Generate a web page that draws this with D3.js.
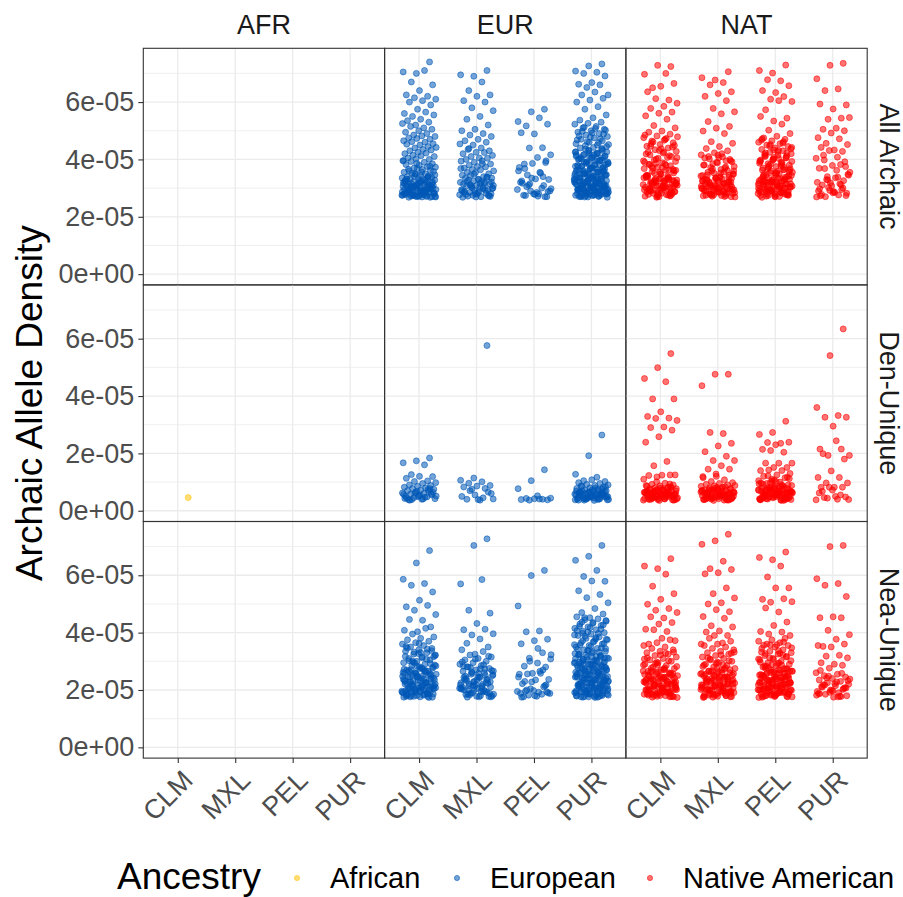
<!DOCTYPE html>
<html>
<head>
<meta charset="utf-8">
<script src="https://cdn.jsdelivr.net/npm/d3@7"></script>
<style>
  body { margin: 0; background: #fff; }
  text { font-family: "Liberation Sans", Arial, sans-serif; }
</style>
</head>
<body>
<div id="plot"></div>
<script>
// Facets and categories
const colNames = ["AFR", "EUR", "NAT"];
const rowNames = ["All Archaic", "Den-Unique", "Nea-Unique"];
const popNames = ["CLM", "MXL", "PEL", "PUR"];
const ancestryNames = ["African", "European", "Native American"];
const ancestryColors = ["#FFC20A", "#0057B7", "#FF0000"];
const yTicks = [0, 2e-5, 4e-5, 6e-5];
const yMinor = [1e-5, 3e-5, 5e-5, 7e-5];

// Archaic allele density per individual, in units of 1e-6, one string per population (CLM, MXL, PEL, PUR)
const afrAll = ["", "", "", ""];
const afrDen = ["4.6", "", "", ""];
const afrNea = ["", "", "", ""];

const eurAll = [
  "74 70 70.5 71 67 66 64 62.5 62 61.5 61 60.5 60 59 57.5 56 56.5 55 55.5 54 53.5 53 52 52.5 51 51.5 50.5 50 49.5 49 48.5 48 48.2 47.5 47 47.3 46.5 46 46.2 45.5 45 45.3 44.5 44 44.2 43.5 43 43.3 42.5 42 42.2 41.5 41 41.3 40.5 40 40.2 39.5 39 39.3 38.5 38 38.2 37.5 37 37.3 36.5 36 36.2 36.8 35.5 35 35.2 35.8 34.5 34 34.2 34.8 33.5 33 33.2 33.8 33.4 32.5 32 32.2 32.8 32.4 31.5 31 31.2 31.8 31.4 30.5 30 30.2 30.8 30.4 30.6 29.5 29 29.2 29.8 29.4 29.6 28.5 28 28.2 28.8 28.4 28.6 28.1 27.5 27.7 27.3 27 27.2 27.8 27.4 27.6 27.1 26.9 26.8 26.8 27 28 29 30 31 32 33 34 35 27.5 28.5 29.5 30.5 31.5 32.5 27.1 27.6 28.1 28.6 29.1 29.6 30.1 30.6 31.1 31.6 32.1 32.6 33.1 33.6 34.1 26.9 27.9 28.9 29.9 30.9 31.9 32.9 27.3 28.3 29.3 30.3 31.3 27.2 28.7 29.2 30.7 31.7 27.4 28.2 29.7 30.2 34.6 35.6 36.6 37.6 38.6 39.6",
  "71 69 69.5 67 64 62.5 62 60.5 60 58 57 55 54 52 50.5 50 49 48.5 48 47 46.5 46 45 45.4 44 43.5 43 42.5 42 42.4 41 41.4 40.5 40 40.4 39 39.4 38.5 38 38.4 37.5 37 37.4 36.5 36 36.4 35.5 35 35.4 34.5 34 34.4 33.5 33 33.4 33.8 32.5 32 32.4 32.8 31.5 31 31.4 31.8 30.5 30 30.4 30.8 29.5 29 29.4 29.8 28.5 28 28.4 28.8 28.2 27.5 27.7 27 27.2 27.4 26.9 26.8 31.8 30.8 29.8 28.8 27.8 33.8 34.8 36.8 39.5 43.8 27.1 27.9 28.6 29.3 30.1 30.9 31.6 32.3 27.4 28.1 29.1 30.2 31.2 32.1 33.1",
  "57.5 56.6 53.2 54.5 51.7 52.3 48.9 49.3 44.1 44 41.6 40.7 38.4 38.9 38.6 37.2 35.2 34.6 33 33.2 31.7 30.9 29 29.5 28 27.4 27 28 32 30 31 29 28.5 27.5 27 33.5 36 35.5 30.5 28.8 27.8 32.5 34 31.5 29.8 27.2 36.8 39.5",
  "73.3 72.6 70.8 70.4 70 69.1 66.8 66.2 66 65.1 62.5 63.5 62.5 61.3 60.7 60 58.4 57.5 55.5 54.5 53.7 53 52.6 52.3 51.5 51 50.5 50 49.5 49 48.5 48 47.5 47 46.5 46 45.5 45 51.2 50.2 49.2 48.2 47.2 46.2 45.2 50.8 49.8 48.8 47.8 46.8 45.8 44.8 44.5 44.2 44 43.5 43 42.5 42 41.5 41 40.5 40 39.5 39 38.5 38 37.5 37 36.5 36 35.5 35 34.5 34 33.5 33 32.5 32 31.5 31 30.5 30 29.5 29 28.5 28 27.5 27 43.8 43.2 42.7 42.2 41.7 41.2 40.7 40.2 39.7 39.2 38.7 38.2 37.7 37.2 36.7 36.2 35.7 35.2 34.7 34.2 33.7 33.2 32.7 32.2 31.7 31.2 30.7 30.2 29.7 29.2 28.7 28.2 27.7 27.2 43.1 42.1 41.1 40.1 39.1 38.1 37.1 36.1 35.1 34.1 33.1 32.1 31.1 30.1 29.1 28.1 27.1 43.6 42.6 41.6 40.6 39.6 38.6 37.6 36.6 35.6 34.6 33.6 32.6 31.6 30.6 29.6 28.6 27.6 35.9 34.9 33.9 32.9 31.9 30.9 29.9 28.9 27.9 26.9 34.3 33.3 32.3 31.3 30.3 29.3 28.3 27.3 26.8 30.8 29.8 28.8 27.8 31.4 30.4 29.4 28.4 27.4 27.1 27.6 28.1 28.6 29.1 29.6 30.1 30.6 31.1 31.6 32.1 32.6 33.1 33.6 34.1 34.6 35.1 35.6 36.1 36.6 37.1 37.6 38.1 38.6 39.1 39.6 40.1 40.6 41.1 41.6 42.1 26.9 27.9 28.9 29.9 30.9 31.9 32.9 33.9 34.9 35.9 36.9 37.9 27.3 28.3 29.3 30.3 31.3 32.3 33.3 27.5 28.5 29.5 30.5 31.5"
];
const natAll = [
  "72.4 72.8 69.7 70 65 66.5 65.5 63.6 60.7 61.2 59.6 58.5 57.8 56.5 56.1 55.2 54 51.8 51 49.9 49.5 48.8 48.2 47.6 47 46.4 45.8 45.2 44.6 44 43.4 42.8 42.2 41.6 41 40.4 48.5 47.3 46.1 44.9 43.7 42.5 41.3 40.1 47.9 46.7 45.5 44.3 43.1 41.9 40.7 39.8 39.3 38.8 38.3 37.8 37.3 36.8 36.3 35.8 35.3 34.8 34.3 33.8 33.3 32.8 32.3 31.8 31.3 30.8 30.3 29.8 29.3 28.8 28.3 27.8 27.3 26.8 39.5 38.5 37.5 36.5 35.5 34.5 33.5 32.5 31.5 30.5 29.5 28.5 27.5 39 38 37 36 35 34 33 32 31 30 29 28 27 34.1 33.1 32.1 31.1 30.1 29.1 28.1 27.1 33.6 32.6 31.6 30.6 29.6 28.6 27.6 32.9 31.9 30.9 29.9 28.9 27.9 27.2 27.7 28.2 28.7 29.2 29.7 30.2 30.7 31.2 31.7 32.2 32.7 33.2 33.7 34.2 35.2 36.2 37.2 38.2 27.4 28.4 29.4 30.4 31.4 32.4 33.4 34.4 36.4 38.6 40.6 42.6 44.6",
  "70.6 67.7 68.5 66.8 66 63.6 63 62 60.5 57.8 56.6 55.9 53.2 51.5 50.9 49.9 49 46.2 45.6 44.5 43.8 43 42.3 41.6 40.9 40.2 39.5 38.8 38.1 37.4 36.7 36 35.3 34.6 33.9 33.2 32.5 31.8 31.1 30.4 29.7 29 28.3 27.6 26.9 42 41 40 39 38 37 36 35 34 33 32 31 30 29 28 27 41.5 40.5 39.5 38.5 37.5 36.5 35.5 34.5 33.5 32.5 31.5 30.5 29.5 28.5 27.5 36.2 35.2 34.2 33.2 32.2 31.2 30.2 29.2 28.2 27.2 34.8 33.8 32.8 31.8 30.8 29.8 28.8 27.8 33.4 32.4 31.4 30.4 29.4 28.4 27.4 30.6 29.6 28.6 27.3 27.1 27.7 28.1 28.7 29.1 29.7 30.1 30.7 31.1 31.7 32.1 32.7 33.1 27.4 28.4 29.4 30.4 31.4 32.4 33.6 34.4 35.6 37.2 39.2 40.6",
  "72.9 70.1 71 67.4 67.8 65.7 63.3 64 61.9 61 60.2 60.5 57.3 54.4 53.4 55 52.3 50.2 49 48.1 47.5 47 46.5 46 45.5 45 44.5 44 43.5 43 42.5 42 41.5 41 40.5 40 39.5 39 38.5 38 37.5 37 36.5 36 35.5 35 34.5 34 33.5 33 32.5 32 31.5 31 30.5 30 29.5 29 28.5 28 27.5 27 47.2 46.2 45.2 44.2 43.2 42.2 41.2 40.2 39.2 38.2 37.2 36.2 35.2 34.2 33.2 32.2 31.2 30.2 29.2 28.2 27.2 46.7 45.7 44.7 43.7 42.7 41.7 40.7 39.7 38.7 37.7 36.7 35.7 34.7 33.7 32.7 31.7 30.7 29.7 28.7 27.7 40.8 39.8 38.8 37.8 36.8 35.8 34.8 33.8 32.8 31.8 30.8 29.8 28.8 27.8 26.8 36.4 35.4 34.4 33.4 32.4 31.4 30.4 29.4 28.4 27.4 33.1 32.1 31.1 30.1 29.1 28.1 27.1 27.2 27.6 28.3 28.6 29.3 29.6 30.3 30.6 31.3 31.6 32.3 32.6 33.3 33.6 34.3 35.3 36.3 37.3 38.3 39.3 40.3 41.3 42.3 43.3 27.4 28.4 29.4 30.4 31.4 32.4 27.9 28.9 29.9 30.9 31.9",
  "73.5 72.8 68.1 64.6 64 59 57.6 59.3 54.4 54 54.6 50.9 50.5 50 49.2 47.6 47.2 45.6 45.2 43.3 44.2 42.8 43.1 40.4 40.8 39.8 37.5 37.9 36.9 38.2 34 34.5 33.6 31.1 32.6 31.8 32 27.6 27 28.2 28.8 27.3 29.5 30.2 35.5 36.2 41.5 39.2 30.8 29 31.5 33 34.8 28.5 27.8 30 29.2 26.9 33.8 36.8 27.4 28.4 29.8 31.2 32.8"
];

const eurDen = [
  "18.4 17.4 16.7 16 12.6 11.9 12 11.3 10.4 10.2 9.8 9.5 9 8.8 8.5 8.2 8 7.8 7.5 7.2 7 6.8 6.5 6.2 6 5.8 5.5 5.2 5 4.8 4.5 4.2 4 3.8 7.7 6.7 5.7 4.7 3.9 6.4 5.4 4.4 7.4 6.1 5.1 4.1 3.7 5.9 4.9 4.3",
  "57.6 11.4 10.6 10.1 9.6 8.8 8.6 8.3 7.8 7.5 4.1 3.7 4 6.5 5.5 5 4.5 7 6 3.9",
  "14.3 10.5 7.7 4.1 4.3 3.8 4.2 3.9 4 3.7 4.4 5.2",
  "26.4 19.2 12.7 11.7 10.5 10.2 10.8 9.8 9.5 9.2 9 8.8 8.5 8.2 8 7.8 7.5 7.2 7 6.8 6.5 6.2 6 5.8 5.5 5.2 5 4.8 4.5 4.2 4 3.8 3.6 8.6 7.6 6.6 5.6 4.6 3.7 8.3 7.3 6.3 5.3 4.3 3.9 7.9 6.9 5.9 4.9 4.1 7.1 6.1 5.1 4.4 6.4 5.4 4.7 3.8 5.7 4.3 6.7 5.9 3.7 4.1 4.5 4.9 5.3 5.7 6.1 6.5 6.9 3.9 4.3 4.7 5.1 5.5 5.9"
];
const natDen = [
  "54.8 49.9 46.1 45 39 39 34.5 32.9 32.3 32.2 31.5 29.2 29 28.1 25.8 23.9 17.2 15.7 12.5 12.4 12.3 12.5 11.8 11 9.6 9.2 9 8.7 8.5 8.2 8 7.7 7.5 7.2 7 6.7 6.5 6.2 6 5.7 5.5 5.2 5 4.7 4.5 4.2 4 3.8 3.6 8.8 7.8 6.8 5.8 4.8 3.9 8.4 7.4 6.4 5.4 4.4 3.7 7.9 6.9 5.9 4.9 4.1 7.1 6.1 5.1 4.3 6.3 5.3 4.6 3.8 5.6 4.2 9.3 10.1 3.7 4.1 4.5 4.9 5.3 5.7 6.1 6.5 6.9 7.3 7.7 8.1 3.9 4.3 4.7 5.1 5.5 5.9 6.3 6.7 7.1",
  "47.6 47.6 43.6 26.9 27.3 23.5 22.6 20.6 19 17.5 17.5 15.7 14.5 14.5 12 11.5 10.8 10.2 9.8 9.5 9.2 9 8.7 8.5 8.2 8 7.7 7.5 7.2 7 6.7 6.5 6.2 6 5.7 5.5 5.2 5 4.7 4.5 4.2 4 3.8 3.6 8.8 7.8 6.8 5.8 4.8 3.9 8.4 7.4 6.4 5.4 4.4 3.7 7.9 6.9 5.9 4.9 4.1 7.1 6.1 5.1 4.3 6.3 5.3 4.6 3.8 12.8 11.9 3.7 4.1 4.5 4.9 5.3 5.7 6.1 6.5 6.9 7.3 7.7 8.1 3.9 4.3 4.7 5.1 5.5 5.9 6.3 6.7 7.1",
  "31.2 27.3 26.6 23.5 23.8 23.9 23 21.4 20.4 21 16.6 16.6 16.6 15.1 15.1 14 14 14.2 13 12.5 12 11.5 11 10.5 10 9.5 9 8.5 8 7.5 7 6.5 6 5.5 5 4.5 4 3.7 12.2 11.2 10.2 9.2 8.2 7.2 6.2 5.2 4.2 11.7 10.7 9.7 8.7 7.7 6.7 5.7 4.7 3.9 10.4 9.4 8.4 7.4 6.4 5.4 4.4 3.6 9.8 8.8 7.8 6.8 5.8 4.8 3.8 9.1 8.1 7.1 6.1 5.1 4.1 8.3 7.3 6.3 5.3 4.3 7.9 6.9 5.9 4.9 3.9 6.6 5.6 4.6 5.9 4.2 3.7 4.1 4.5 4.9 5.3 5.7 6.1 6.5 6.9 7.3 7.7 8.1 3.9 4.3 4.7 5.1 5.5 5.9 6.3 6.7 7.1",
  "63.4 54.1 36 33.2 32.6 32.6 29.5 21.5 21.5 19.3 19.3 24.4 19.9 18 13.9 11.6 11.6 9.7 9.7 8.2 8.2 8.2 8.2 3.8 4 4.6 4.8 7.2 6.2 5.5 4.4 3.9 5 6.8"
];

const eurNea = [
  "68.6 64.3 58.6 57.1 56.5 54.2 51.3 49 49.5 47.8 46.3 44.3 44.6 42 40.3 40.8 41.5 39.5 38.5 38 37.5 37 36.5 36 35.5 35 34.5 34 33.5 33 32.5 32 31.5 31 30.5 30 29.5 29 28.5 28 27.5 27 26.5 26 25.5 25 24.5 24 23.5 23 22.5 22 21.5 21 20.5 20 19.5 19 18.5 18 17.5 36.2 35.2 34.2 33.2 32.2 31.2 30.2 29.2 28.2 27.2 26.2 25.2 24.2 23.2 22.2 21.2 20.2 19.2 18.2 17.6 33.7 32.7 31.7 30.7 29.7 28.7 27.7 26.7 25.7 24.7 23.7 22.7 21.7 20.7 19.7 18.7 17.7 29.4 28.4 27.4 26.4 25.4 24.4 23.4 22.4 21.4 20.4 19.4 18.4 17.4 25.8 24.8 23.8 22.8 21.8 20.8 19.8 18.8 17.8 22.1 21.1 20.1 19.1 18.1 17.5 20.6 19.6 18.6 17.6 18.1 18.6 19.1 19.6 20.1 20.6 21.1 21.6 22.1 22.6 23.1 23.6 24.1 24.6 25.1 25.6 26.1 26.6 27.1 27.6 28.1 17.8 18.8 19.8 20.8 21.8 22.8 23.8 24.8 25.8 26.8 30.1 31.6 33.1 34.6",
  "72.7 70.4 57 58.5 47.8 46.8 43.2 41 41.2 39.2 39.6 37.8 36.3 35 32.5 34 33.4 32.2 31.5 31 30.5 30 29.5 29 28.5 28 27.5 27 26.5 26 25.5 25 24.5 24 23.5 23 22.5 22 21.5 21 20.5 20 19.5 19 18.5 18 17.5 31.8 30.8 29.8 28.8 27.8 26.8 25.8 24.8 23.8 22.8 21.8 20.8 19.8 18.8 17.8 28.3 27.3 26.3 25.3 24.3 23.3 22.3 21.3 20.3 19.3 18.3 17.6 24.6 23.6 22.6 21.6 20.6 19.6 18.6 17.7 21.9 20.9 19.9 18.9 17.9 17.6 18.4 19.1 19.9 20.6 21.4 22.1 22.9 23.6 24.4 25.1 25.9 26.6 27.4 28.1",
  "61.7 59.9 49.3 40.6 40.3 37.7 37.2 36.1 33 31.1 30.8 29.4 28.3 28 25.8 25.5 25.8 25.6 23.7 23.5 22.2 21.1 20.4 19.5 19.2 19.6 19.4 19.8 18.8 18.5 18.2 18.8 17.8 17.6 21.5 22.8 24.5 26.5 20 19 18 17.5 27 30 32.3 34.5 23 21.8",
  "70.4 66.6 65.2 61.7 59.6 57.9 58 54.6 53.3 52.2 50.4 48.4 47 46.5 45.2 45.5 44.8 44.5 44 43.5 43 42.5 42 41.5 41 40.5 40 39.5 39 38.5 38 37.5 37 36.5 36 35.5 35 34.5 34 33.5 33 32.5 32 31.5 31 30.5 30 29.5 29 28.5 28 27.5 27 26.5 26 25.5 25 24.5 24 23.5 23 22.5 22 21.5 21 20.5 20 19.5 19 18.5 18 17.5 45.2 44.2 43.2 42.2 41.2 40.2 39.2 38.2 37.2 36.2 35.2 34.2 33.2 32.2 31.2 30.2 29.2 28.2 27.2 26.2 25.2 24.2 23.2 22.2 21.2 20.2 19.2 18.2 17.4 43.7 42.7 41.7 40.7 39.7 38.7 37.7 36.7 35.7 34.7 33.7 32.7 31.7 30.7 29.7 28.7 27.7 26.7 25.7 24.7 23.7 22.7 21.7 20.7 19.7 18.7 17.7 34.4 33.4 32.4 31.4 30.4 29.4 28.4 27.4 26.4 25.4 24.4 23.4 22.4 21.4 20.4 19.4 18.4 17.6 30.9 29.9 28.9 27.9 26.9 25.9 24.9 23.9 22.9 21.9 20.9 19.9 18.9 17.9 26.1 25.1 24.1 23.1 22.1 21.1 20.1 19.1 18.1 17.5 23.6 22.6 21.6 20.6 19.6 18.6 17.8 17.6 18.1 18.6 19.1 19.6 20.1 20.6 21.1 21.6 22.1 22.6 23.1 23.6 24.1 24.6 25.1 25.6 26.1 26.6 27.1 27.6 28.1 28.6 29.1 29.6 30.1 30.6 31.1 31.6 32.1 17.8 18.8 19.8 20.8 21.8 22.8 23.8 24.8 25.8 26.8 27.8 28.8 29.8 31.8 33.8 35.8 37.8 39.8"
];
const natNea = [
  "65.8 62.3 63.2 60.4 56.2 53.6 51.6 49.9 48.4 47.8 47 45.1 45.5 43.5 43 41.2 40.4 41 37.2 38 36 37.5 36.5 35.5 35 34.5 34 33.5 33 32.5 32 31.5 31 30.5 30 29.5 29 28.5 28 27.5 27 26.5 26 25.5 25 24.5 24 23.5 23 22.5 22 21.5 21 20.5 20 19.5 19 18.5 18 17.5 33.2 32.2 31.2 30.2 29.2 28.2 27.2 26.2 25.2 24.2 23.2 22.2 21.2 20.2 19.2 18.2 17.6 29.7 28.7 27.7 26.7 25.7 24.7 23.7 22.7 21.7 20.7 19.7 18.7 17.7 26.4 25.4 24.4 23.4 22.4 21.4 20.4 19.4 18.4 17.4 24.1 23.1 22.1 21.1 20.1 19.1 18.1 21.8 20.8 19.8 18.8 17.8 22.9 19.3 18.6 17.6 18.1 18.6 19.1 19.6 20.1 20.6 21.1 21.6 22.1 22.6 23.1 23.6 24.1 24.6 25.1 25.6 26.1 26.6 27.1 27.6 17.8 18.8 19.8 20.8 21.8 22.8 23.8 24.8 25.8 28.8 30.8 32.8",
  "74.3 72 70.8 64.9 62.3 62 60.9 60.5 55.6 53.6 52.1 50.4 50 47.3 48 45.6 45 42.4 42 40.6 40.2 39 39 36 36.4 38 37 36 35.5 35 34.5 34 33.5 33 32.5 32 31.5 31 30.5 30 29.5 29 28.5 28 27.5 27 26.5 26 25.5 25 24.5 24 23.5 23 22.5 22 21.5 21 20.5 20 19.5 19 18.5 18 17.5 33.2 32.2 31.2 30.2 29.2 28.2 27.2 26.2 25.2 24.2 23.2 22.2 21.2 20.2 19.2 18.2 17.6 29.7 28.7 27.7 26.7 25.7 24.7 23.7 22.7 21.7 20.7 19.7 18.7 17.7 26.4 25.4 24.4 23.4 22.4 21.4 20.4 19.4 18.4 17.4 24.1 23.1 22.1 21.1 20.1 19.1 18.1 21.8 20.8 19.8 18.8 17.8 17.6 18.1 18.6 19.1 19.6 20.1 20.6 21.1 21.6 22.1 22.6 23.1 23.6 24.1 24.6 25.1 25.6 26.1 26.6 27.1 27.6 17.8 18.8 19.8 20.8 21.8 22.8 23.8 24.8 25.8 28.8 30.8 32.8",
  "68.1 65.4 66.2 63.2 59.4 55.6 55.6 51.6 51.8 50.6 50.8 47.2 48.6 43.7 42.5 40.4 40.2 39.5 39 35.8 35.6 38 37.5 37 36.5 36 35.5 35 34.5 34 33.5 33 32.5 32 31.5 31 30.5 30 29.5 29 28.5 28 27.5 27 26.5 26 25.5 25 24.5 24 23.5 23 22.5 22 21.5 21 20.5 20 19.5 19 18.5 18 17.5 36.7 35.7 34.7 33.7 32.7 31.7 30.7 29.7 28.7 27.7 26.7 25.7 24.7 23.7 22.7 21.7 20.7 19.7 18.7 17.7 33.2 32.2 31.2 30.2 29.2 28.2 27.2 26.2 25.2 24.2 23.2 22.2 21.2 20.2 19.2 18.2 17.6 29.4 28.4 27.4 26.4 25.4 24.4 23.4 22.4 21.4 20.4 19.4 18.4 17.4 26.9 25.9 24.9 23.9 22.9 21.9 20.9 19.9 18.9 17.9 24.6 23.6 22.6 21.6 20.6 19.6 18.6 17.8 22.1 21.1 20.1 19.1 18.1 17.6 18.1 18.6 19.1 19.6 20.1 20.6 21.1 21.6 22.1 22.6 23.1 23.6 24.1 24.6 25.1 25.6 26.1 26.6 27.1 27.6 17.8 18.8 19.8 20.8 21.8 22.8 23.8 24.8 25.8 28.8 30.8 32.8",
  "70.4 70 58.8 57.1 56.5 52.6 45.5 45.2 45.2 40.8 39.3 37.7 35.2 36 35 35.5 32.1 31.8 31.2 29 29.5 28.6 27.6 26 25.5 25 24.5 24 23.5 23 22.5 22 21.5 21 20.5 20 19.5 19 18.5 18 17.5 26.8 25.8 24.8 23.8 22.8 21.8 20.8 19.8 18.8 17.8 24.2 23.2 22.2 21.2 20.2 19.2 18.2 17.6 21.7 20.7 19.7 18.7 17.7"
];

// rows x columns
const panelData = [
  [afrAll, eurAll, natAll],
  [afrDen, eurDen, natDen],
  [afrNea, eurNea, natNea]
];

// Layout
const W = 903, H = 897;
const marginLeft = 143.3, marginTop = 48.3;
const pw = 241.3, ph = 236.6;

const svg = d3.select("#plot").append("svg")
  .attr("width", W).attr("height", H);

const x = d3.scalePoint().domain(popNames).range([0, pw]).padding(0.6);
const y = d3.scaleLinear().domain([-3.75e-6, 78.75e-6]).range([ph, 0]);

const fmtSci = d => {
  if (d === 0) return "0e+00";
  const [m, e] = d.toExponential(0).split("e");
  const n = +e;
  return m + "e" + (n < 0 ? "-" : "+") + String(Math.abs(n)).padStart(2, "0");
};

// deterministic horizontal jitter (geom_jitter width 0.3)
const jit = i => ((((i + 1.3) * 0.618034) % 1) - 0.5) * 0.6;

panelData.forEach((row, r) => {
  row.forEach((groups, c) => {
    const g = svg.append("g")
      .attr("transform", `translate(${marginLeft + c * pw}, ${marginTop + r * ph})`);

    // grid
    g.selectAll(".minor").data(yMinor).enter().append("line")
      .attr("x1", 0).attr("x2", pw)
      .attr("y1", d => y(d)).attr("y2", d => y(d))
      .attr("stroke", "#EBEBEB").attr("stroke-width", 0.8);
    g.selectAll(".major").data(yTicks).enter().append("line")
      .attr("x1", 0).attr("x2", pw)
      .attr("y1", d => y(d)).attr("y2", d => y(d))
      .attr("stroke", "#EBEBEB").attr("stroke-width", 1.3);
    g.selectAll(".vgrid").data(popNames).enter().append("line")
      .attr("x1", d => x(d)).attr("x2", d => x(d))
      .attr("y1", 0).attr("y2", ph)
      .attr("stroke", "#EBEBEB").attr("stroke-width", 1.3);

    // points
    const color = ancestryColors[c];
    const pts = [];
    groups.forEach((s, p) => {
      if (!s) return;
      s.trim().split(/\s+/).map(Number).forEach((v, i) => {
        pts.push({ pop: popNames[p], v: v * 1e-6, i });
      });
    });
    g.selectAll("circle").data(pts).enter().append("circle")
      .attr("cx", d => x(d.pop) + jit(d.i) * x.step())
      .attr("cy", d => y(d.v))
      .attr("r", 3)
      .attr("fill", color).attr("fill-opacity", 0.55)
      .attr("stroke", color).attr("stroke-opacity", 0.55).attr("stroke-width", 1);

    // border
    g.append("rect")
      .attr("width", pw).attr("height", ph)
      .attr("fill", "none").attr("stroke", "#333333").attr("stroke-width", 1.1);

    // left axis
    if (c === 0) {
      const ax = g.append("g")
        .call(d3.axisLeft(y).tickValues(yTicks).tickFormat(fmtSci).tickSize(5).tickPadding(4));
      ax.select(".domain").remove();
      ax.selectAll("line").attr("stroke", "#333333").attr("stroke-width", 1.1);
      ax.selectAll("text").attr("fill", "#4D4D4D").style("font-size", "27px")
        .style("font-family", "'Liberation Sans', Arial, sans-serif");
    }
    // bottom axis
    if (r === 2) {
      const ax = g.append("g").attr("transform", `translate(0, ${ph})`)
        .call(d3.axisBottom(x).tickSize(5).tickFormat(""));
      ax.select(".domain").remove();
      ax.selectAll("line").attr("stroke", "#333333").attr("stroke-width", 1.1);
      g.selectAll(".xlab").data(popNames).enter().append("text")
        .attr("transform", d => `translate(${x(d) + 3}, ${ph + 10}) rotate(-45)`)
        .attr("text-anchor", "end")
        .attr("dy", "0.72em")
        .attr("fill", "#4D4D4D")
        .style("font-size", "27px")
        .text(d => d);
    }
    // top strip
    if (r === 0) {
      svg.append("text")
        .attr("x", marginLeft + c * pw + pw / 2).attr("y", 34)
        .attr("text-anchor", "middle").attr("fill", "#1A1A1A")
        .style("font-size", "27px").text(colNames[c]);
    }
    // right strip
    if (c === 2) {
      svg.append("text")
        .attr("transform", `translate(${marginLeft + 3 * pw + 13}, ${marginTop + r * ph + ph / 2}) rotate(90)`)
        .attr("text-anchor", "middle").attr("fill", "#1A1A1A")
        .style("font-size", "27px").text(rowNames[r]);
    }
  });
});

// y axis title
svg.append("text")
  .attr("transform", `translate(42, ${marginTop + 1.5 * ph}) rotate(-90)`)
  .attr("text-anchor", "middle").attr("fill", "black")
  .style("font-size", "37px").text("Archaic Allele Density");

// legend
const legY = 878;
svg.append("text")
  .attr("x", 117).attr("y", legY + 11)
  .attr("fill", "black").style("font-size", "37px").text("Ancestry");
const legX = [297, 457, 650];
ancestryNames.forEach((name, k) => {
  svg.append("circle")
    .attr("cx", legX[k]).attr("cy", legY).attr("r", 2.6)
    .attr("fill", ancestryColors[k]).attr("fill-opacity", 0.55)
    .attr("stroke", ancestryColors[k]).attr("stroke-opacity", 0.55);
  svg.append("text")
    .attr("x", legX[k] + 33).attr("y", legY + 10)
    .attr("fill", "black").style("font-size", "29px").text(name);
});
</script>
</body>
</html>
